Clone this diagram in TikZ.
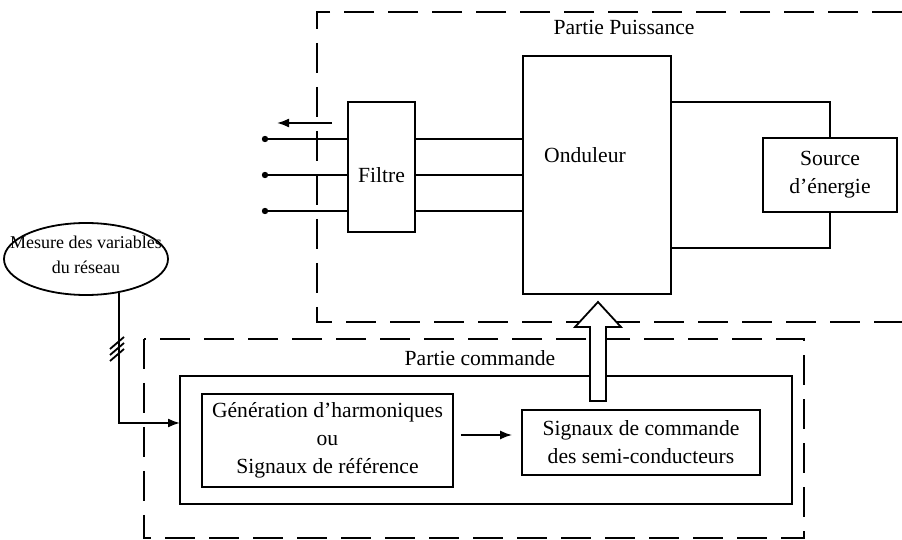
\documentclass[tikz,border=0pt]{standalone}
\usepackage{fontspec}
\setmainfont{Liberation Serif}
\usetikzlibrary{arrows.meta, positioning, shapes.geometric}

\begin{document}
\begin{tikzpicture}[
  x=0.5pt, y=-0.5pt,
  font=\fontsize{10.8}{14}\selectfont,
  line width=0.9pt,
  bloc/.style={draw, align=center, inner sep=0pt},
  zone/.style={line width=1.2pt, dash pattern=on 15pt off 7pt},
  arr/.style={-{Latex[length=6pt, width=4.5pt]}, line width=0.9pt}
]
  \useasboundingbox (0,0) rectangle (902,540);

  % partie puissance
  \draw[zone] (902,12) -- (317,12) -- (317,322) -- (902,322);
  \node (titrep) at (624,27) {Partie Puissance};
  \node[bloc, minimum width=33.5pt, minimum height=65pt,
        label={[yshift=-4pt]center:Filtre}] (filtre) at (381.5,167) {};
  \node[bloc, minimum width=74pt, minimum height=119pt,
        label={[xshift=-6pt, yshift=10pt]center:Onduleur}] (ond) at (597,175) {};
  \node[bloc, minimum width=67pt, minimum height=37pt] (source) at (830,175) {Source\\d’énergie};

  \foreach \i/\y in {1/139, 2/175, 3/211} {
    \coordinate (p\i) at (265,\y);
    \fill (p\i) circle (1.6pt);
    \draw (p\i) -- (p\i -| filtre.west);
    \draw (p\i -| filtre.east) -- (p\i -| ond.west);
  }
  \coordinate (s1) at (332,123);
  \coordinate (s2) at (277,123);
  \draw[arr] (s1) -- (s2);

  \draw (ond.east |- 0,102) -| (source.north);
  \draw (source.south) |- (ond.east |- 0,248);

  % partie commande
  \draw[zone] (144,339) rectangle (804,538);
  \node (titrec) at (480,358) {Partie commande};
  \node[bloc, minimum width=306pt, minimum height=64pt] (cmd) at (486,440) {};
  \node[bloc, minimum width=125.5pt, minimum height=46.5pt] (gen) at (327.5,440.5)
    {Génération d’harmoniques\\ou\\Signaux de référence};
  \node[bloc, minimum width=119pt, minimum height=32.5pt] (sig) at (641,442.5)
    {Signaux de commande\\des semi-conducteurs};

  \draw[arr] ([xshift=3.5pt, yshift=2.75pt]gen.east) coordinate (g1) -- ([xshift=-4.5pt]g1 -| sig.west);

  % mesure
  \node[ellipse, draw, minimum width=82pt, minimum height=36pt, inner sep=0pt,
        label={[align=center, font=\fontsize{9}{12.5}\selectfont, yshift=2pt]center:Mesure des variables\\du réseau}]
        (mesure) at (86,259) {};
  \coordinate (entree) at (180,423);
  \draw[arr] (mesure.-46) |- (entree);
  \foreach \y in {343, 349, 355}
    \draw (110,\y+6) -- (124,\y-6);

  % fleche de commande
  \coordinate (base) at (598,401);
  \coordinate (tip) at (598,302);
  \draw[fill=white] (base) ++(-8,0) -- ++(0,-74) -- ++(-15,0) -- (tip)
    -- (621,327) -- (606,327) -- (606,401) -- cycle;
\end{tikzpicture}
\end{document}
